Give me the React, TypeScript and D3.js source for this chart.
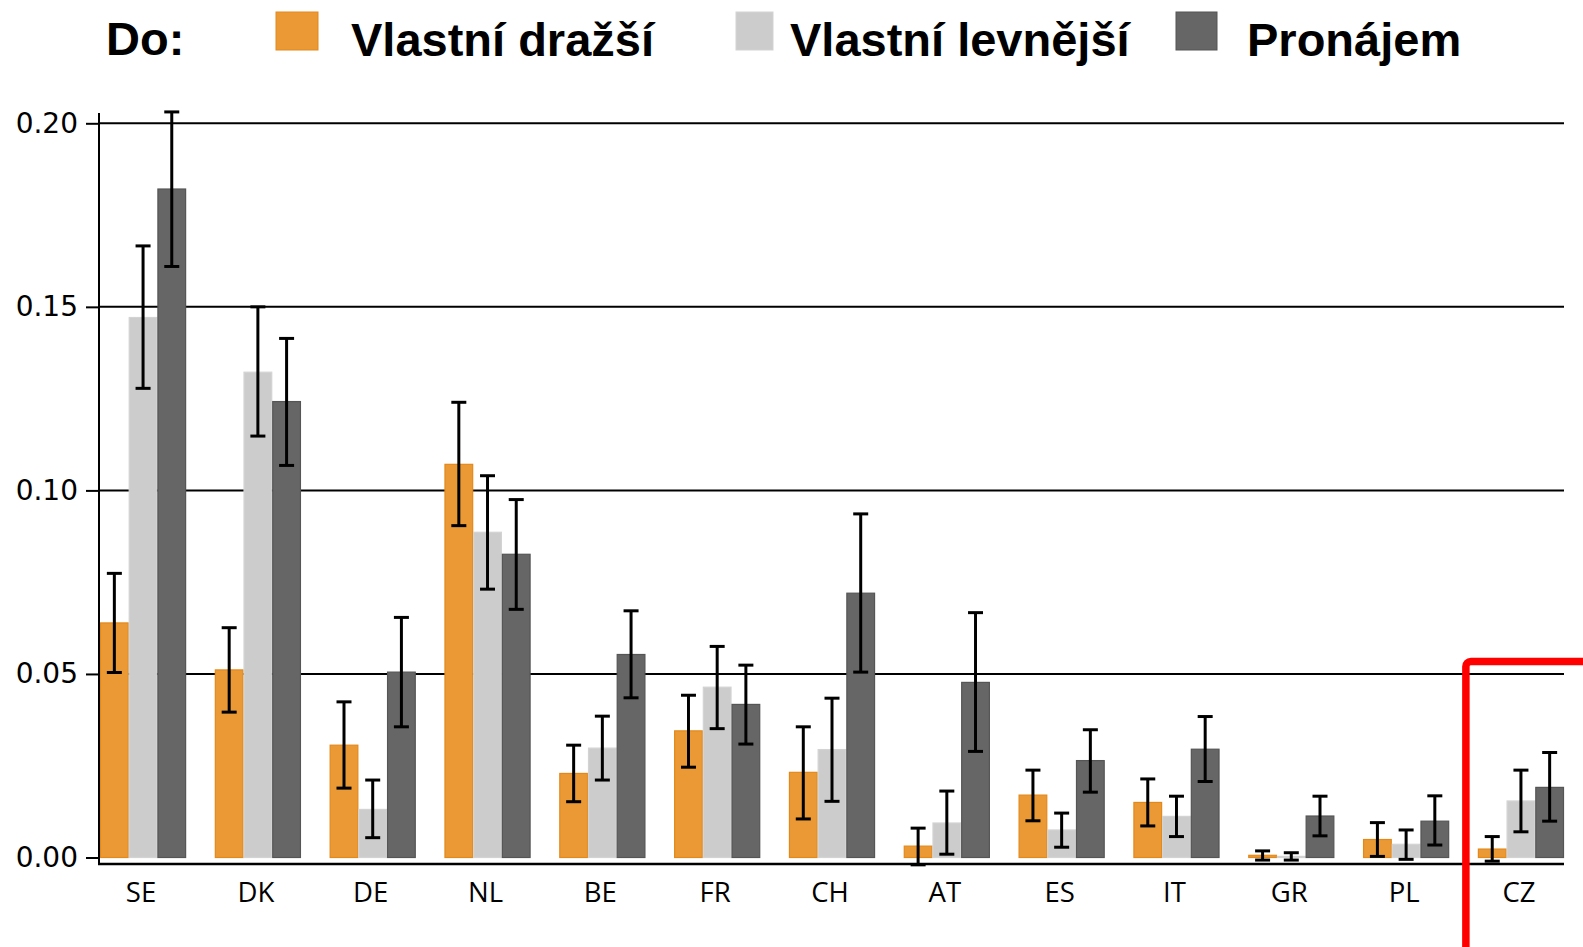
import { useEffect, useRef } from "react";
import * as d3 from "d3";

const countries = ["SE", "DK", "DE", "NL", "BE", "FR", "CH", "AT", "ES", "IT", "GR", "PL", "CZ"];

const seriesNames = ["Vlastní dražší", "Vlastní levnější", "Pronájem"];

const ownDearer = [0.0639, 0.0511, 0.0306, 0.1071, 0.0229, 0.0345, 0.0232, 0.0031, 0.017, 0.015, 0.0006, 0.0049, 0.0023];
const ownDearerLow = [0.0504, 0.0396, 0.0189, 0.0904, 0.0152, 0.0246, 0.0105, -0.002, 0.01, 0.0086, -0.0007, 0.0003, -0.001];
const ownDearerHigh = [0.0774, 0.0626, 0.0424, 0.124, 0.0306, 0.0442, 0.0356, 0.008, 0.0238, 0.0214, 0.0018, 0.0095, 0.0057];

const ownCheaper = [0.1471, 0.1322, 0.0131, 0.0886, 0.0298, 0.0464, 0.0294, 0.0094, 0.0075, 0.0112, 0.0003, 0.0036, 0.0154];
const ownCheaperLow = [0.1278, 0.1148, 0.0054, 0.0731, 0.0211, 0.0351, 0.0153, 0.0009, 0.0028, 0.0057, -0.0007, -0.0005, 0.007];
const ownCheaperHigh = [0.1666, 0.15, 0.0211, 0.104, 0.0385, 0.0575, 0.0434, 0.0181, 0.0121, 0.0167, 0.0013, 0.0075, 0.0238];

const rent = [0.1821, 0.1242, 0.0505, 0.0826, 0.0553, 0.0417, 0.072, 0.0477, 0.0264, 0.0295, 0.0113, 0.0099, 0.0191];
const rentLow = [0.161, 0.1068, 0.0356, 0.0676, 0.0435, 0.0309, 0.0505, 0.0289, 0.0178, 0.0207, 0.0059, 0.0034, 0.0099];
const rentHigh = [0.2031, 0.1414, 0.0654, 0.0975, 0.0672, 0.0524, 0.0936, 0.0667, 0.0348, 0.0384, 0.0167, 0.0168, 0.0286];

const yTicks = [0, 0.05, 0.1, 0.15, 0.2];
const highlighted = "CZ";

const fills = ["#ea9934", "#cccccc", "#666666"];
const strokes = ["#e3891c", "#d3d3d3", "#555555"];

type BarDatum = {
  country: string;
  series: number;
  value: number;
  low: number;
  high: number;
};

export default function App() {
  const ref = useRef<SVGSVGElement | null>(null);

  useEffect(() => {
    const node = ref.current;
    if (!node) return;
    const svg = d3.select(node);
    svg.selectAll("*").remove();

    const width = 1583;
    const height = 947;
    const plotLeft = 100;
    const plotRight = 1564;
    const axisX = 99;
    const axisY = 864;

    const values = [ownDearer, ownCheaper, rent];
    const lows = [ownDearerLow, ownCheaperLow, rentLow];
    const highs = [ownDearerHigh, ownCheaperHigh, rentHigh];

    const bars: BarDatum[] = countries.flatMap((country, i) =>
      seriesNames.map((_, s) => ({
        country,
        series: s,
        value: values[s][i],
        low: lows[s][i],
        high: highs[s][i],
      }))
    );

    const x = d3.scaleBand<string>().domain(countries).range([plotLeft, plotRight]).paddingInner(0.25).paddingOuter(0);
    const xInner = d3.scaleBand<number>().domain([0, 1, 2]).range([0, x.bandwidth()]).padding(0);
    const y = d3.scaleLinear().domain([0, 0.2]).range([857.5, 123.3]);

    svg.attr("width", width).attr("height", height).attr("viewBox", `0 0 ${width} ${height}`);

    // grid lines
    svg
      .append("g")
      .selectAll("line")
      .data(yTicks.filter((t) => t > 0))
      .join("line")
      .attr("x1", axisX)
      .attr("x2", plotRight)
      .attr("y1", (d) => y(d))
      .attr("y2", (d) => y(d))
      .attr("stroke", "#000")
      .attr("stroke-width", 2);

    // bars
    svg
      .append("g")
      .selectAll("rect")
      .data(bars)
      .join("rect")
      .attr("x", (d) => (x(d.country) ?? 0) + (xInner(d.series) ?? 0) + 0.5)
      .attr("y", (d) => y(d.value))
      .attr("width", xInner.bandwidth() - 1)
      .attr("height", (d) => y(0) - y(d.value))
      .attr("fill", (d) => fills[d.series])
      .attr("stroke", (d) => strokes[d.series])
      .attr("stroke-width", 1.2);

    // error bars
    const errG = svg.append("g").attr("stroke", "#000").attr("stroke-width", 3);
    const cx = (d: BarDatum) => (x(d.country) ?? 0) + (xInner(d.series) ?? 0) + xInner.bandwidth() / 2;
    const cap = 7.5;
    errG
      .selectAll("line.v")
      .data(bars)
      .join("line")
      .attr("class", "v")
      .attr("x1", cx)
      .attr("x2", cx)
      .attr("y1", (d) => y(d.low))
      .attr("y2", (d) => y(d.high));
    errG
      .selectAll("line.t")
      .data(bars)
      .join("line")
      .attr("class", "t")
      .attr("x1", (d) => cx(d) - cap)
      .attr("x2", (d) => cx(d) + cap)
      .attr("y1", (d) => y(d.high))
      .attr("y2", (d) => y(d.high));
    errG
      .selectAll("line.b")
      .data(bars)
      .join("line")
      .attr("class", "b")
      .attr("x1", (d) => cx(d) - cap)
      .attr("x2", (d) => cx(d) + cap)
      .attr("y1", (d) => y(d.low))
      .attr("y2", (d) => y(d.low));

    // y axis
    const yAxis = d3
      .axisLeft(y)
      .tickValues(yTicks)
      .tickSize(13)
      .tickPadding(8)
      .tickFormat((v) => d3.format(".2f")(Number(v)));
    svg
      .append("g")
      .attr("transform", `translate(${axisX},0)`)
      .call(yAxis)
      .call((g) => {
        g.select(".domain").remove();
        g.selectAll("line").attr("stroke", "#000").attr("stroke-width", 2);
        g.selectAll("text")
          .attr("fill", "#000")
          .attr("font-size", 28)
          .attr("font-family", "'DejaVu Sans', Verdana, sans-serif");
      });
    svg
      .append("line")
      .attr("x1", axisX)
      .attr("x2", axisX)
      .attr("y1", 113)
      .attr("y2", axisY + 1)
      .attr("stroke", "#000")
      .attr("stroke-width", 2);

    // x axis
    svg
      .append("line")
      .attr("x1", axisX - 1)
      .attr("x2", plotRight)
      .attr("y1", axisY)
      .attr("y2", axisY)
      .attr("stroke", "#000")
      .attr("stroke-width", 2.5);
    svg
      .append("g")
      .selectAll("text")
      .data(countries)
      .join("text")
      .attr("x", (d) => (x(d) ?? 0) + x.bandwidth() / 2 - 2)
      .attr("y", 902)
      .attr("text-anchor", "middle")
      .attr("font-size", 27.5)
      .attr("font-family", "'Open Sans', sans-serif")
      .attr("fill", "#000")
      .text((d) => d);

    // legend
    const legendSquares = [
      { x: 276, w: 42 },
      { x: 736, w: 37 },
      { x: 1176, w: 41 },
    ];
    const legendText = [351, 790, 1247];
    const legend = svg.append("g").attr("font-family", "'Liberation Sans', Arial, sans-serif").attr("font-weight", "bold");
    legend.append("text").attr("x", 106).attr("y", 55).attr("font-size", 47).attr("fill", "#000").text("Do:");
    seriesNames.forEach((name, s) => {
      legend
        .append("rect")
        .attr("x", legendSquares[s].x)
        .attr("y", 12)
        .attr("width", legendSquares[s].w)
        .attr("height", 38)
        .attr("fill", fills[s])
        .attr("stroke", strokes[s])
        .attr("stroke-width", 1);
      legend
        .append("text")
        .attr("x", legendText[s])
        .attr("y", 56)
        .attr("font-size", 47)
        .attr("fill", "#000")
        .text(name);
    });

    // highlight box
    const hx = (x(highlighted) ?? 0) - 12;
    svg
      .append("rect")
      .attr("x", hx)
      .attr("y", 661.5)
      .attr("width", 140)
      .attr("height", 320)
      .attr("rx", 5)
      .attr("fill", "none")
      .attr("stroke", "#ff0000")
      .attr("stroke-width", 7.5);
  }, []);

  return (
    <svg
      ref={ref}
      style={{ position: "absolute", left: 0, top: 0, display: "block", background: "#fff" }}
    />
  );
}
